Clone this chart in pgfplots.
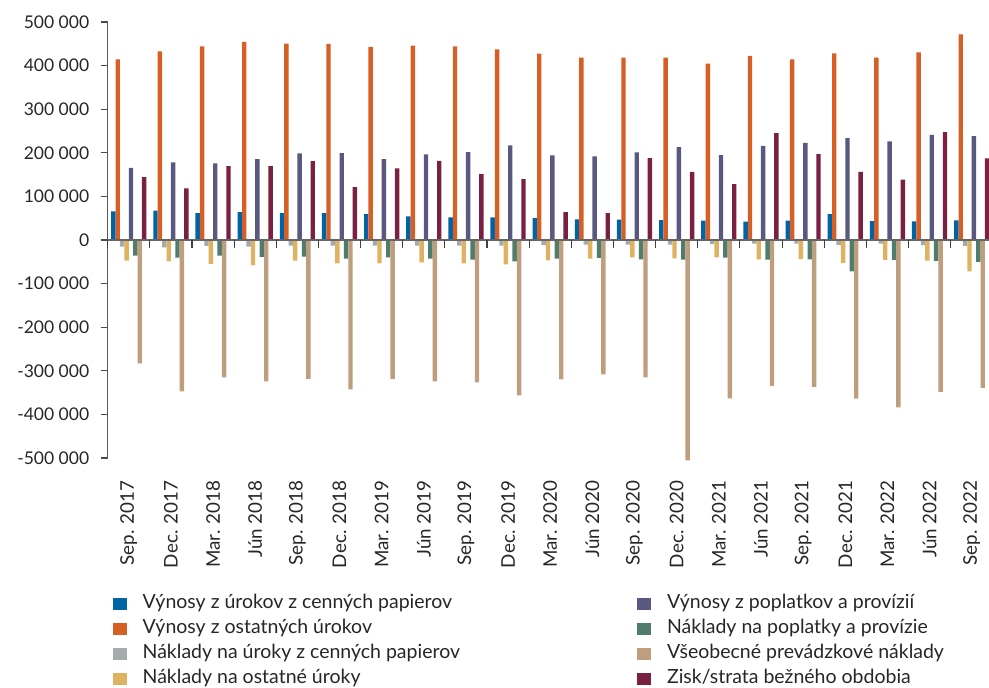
\documentclass[border=0pt]{standalone}
\usepackage{fontspec}
\setmainfont{Lato}
\usepackage{pgfplots}
\pgfplotsset{compat=1.18}

\definecolor{cBlue}{HTML}{0063A6}
\definecolor{cOrange}{HTML}{D65F26}
\definecolor{cGray}{HTML}{A5AAAD}
\definecolor{cYellow}{HTML}{DEB261}
\definecolor{cNavy}{HTML}{585880}
\definecolor{cTeal}{HTML}{507C6E}
\definecolor{cTan}{HTML}{BE9E7C}
\definecolor{cMaroon}{HTML}{7A2040}

\begin{document}
\begin{tikzpicture}
\path[use as bounding box] (-107.7pt,-230pt) rectangle (881.3pt,458pt);
\begin{axis}[
    name=ax,
    at={(0,0)}, anchor=south west,
    scale only axis,
    width=881.3pt, height=436pt,
    ybar=0pt, bar width=4.4pt,
    xmin=-0.5, xmax=20.41,
    ymin=-500000, ymax=500000,
    scaled y ticks=false,
    clip=false,
    axis y line*=left,
    axis x line*=bottom,
    x axis line style={draw=none},
    y axis line style={black!65, line width=1.2pt},
    ytick={-500000,-400000,...,500000},
    yticklabels={-500 000,-400 000,-300 000,-200 000,-100 000,0,100 000,200 000,300 000,400 000,500 000},
    xtick={0,...,20},
    xticklabels={Sep. 2017,Dec. 2017,Mar. 2018,Jún 2018,Sep. 2018,Dec. 2018,Mar. 2019,Jún 2019,Sep. 2019,Dec. 2019,Mar. 2020,Jún 2020,Sep. 2020,Dec. 2020,Mar. 2021,Jún 2021,Sep. 2021,Dec. 2021,Mar. 2022,Jún 2022,Sep. 2022},
    x tick style={draw=none},
    y tick style={black!70, line width=1.2pt},
    tick align=outside,
    major tick length=7pt,
    ticklabel style={font=\fontsize{17.5}{21}\selectfont, text=black!85},
    x tick label style={rotate=90, anchor=east, font=\fontsize{18.8}{22}\selectfont},
    xticklabel shift=12pt,
    yticklabel shift=8pt,
    legend columns=4,
    transpose legend,
    legend cell align=left,
    legend image code/.code={\fill[#1] (0pt,-6pt) rectangle (14pt,6pt);},
    legend style={
        at={(1.8pt,-133pt)}, anchor=north west,
        draw=none, fill=none,
        font=\fontsize{19.5}{23}\selectfont,
        text=black!85,
        nodes={inner sep=0pt, text height=13pt, text depth=4pt},
        row sep=8pt,
        /tikz/every odd column/.style={column sep=16pt},
        /tikz/every even column/.style={column sep=177pt},
    },
]
% Výnosy z úrokov z cenných papierov
\addplot[fill=cBlue, draw=none] coordinates {
(0,65600) (1,67200) (2,61800) (3,64100) (4,61800) (5,61800) (6,59500)
(7,54200) (8,51900) (9,51900) (10,50400) (11,47300) (12,46600) (13,45800)
(14,44300) (15,42000) (16,44300) (17,59500) (18,43500) (19,42700) (20,45000)};
% Výnosy z ostatných úrokov
\addplot[fill=cOrange, draw=none] coordinates {
(0,414500) (1,432800) (2,444300) (3,454200) (4,450400) (5,449600) (6,442700)
(7,445800) (8,444300) (9,437400) (10,427500) (11,418300) (12,418300) (13,418300)
(14,404600) (15,422100) (16,414500) (17,428200) (18,418300) (19,430500) (20,471800)};
% Náklady na úroky z cenných papierov
\addplot[fill=cGray, draw=none] coordinates {
(0,-15300) (1,-16800) (2,-13700) (3,-15300) (4,-13000) (5,-13000) (6,-13000)
(7,-13000) (8,-13000) (9,-13000) (10,-11500) (11,-10700) (12,-10700) (13,-10700)
(14,-9200) (15,-8400) (16,-8400) (17,-11500) (18,-8400) (19,-11500) (20,-13700)};
% Náklady na ostatné úroky
\addplot[fill=cYellow, draw=none] coordinates {
(0,-47300) (1,-48900) (2,-55000) (3,-58000) (4,-47300) (5,-53400) (6,-53400)
(7,-51100) (8,-53400) (9,-55700) (10,-46600) (11,-42700) (12,-39700) (13,-42000)
(14,-39700) (15,-44300) (16,-43500) (17,-52700) (18,-45800) (19,-47300) (20,-71800)};
% Výnosy z poplatkov a provízií
\addplot[fill=cNavy, draw=none] coordinates {
(0,165600) (1,177900) (2,175600) (3,185500) (4,198500) (5,199200) (6,185500)
(7,196200) (8,201500) (9,216800) (10,193900) (11,191600) (12,200800) (13,213000)
(14,194700) (15,216000) (16,222900) (17,233600) (18,226000) (19,241200) (20,238200)};
% Náklady na poplatky a provízie
\addplot[fill=cTeal, draw=none] coordinates {
(0,-35900) (1,-40500) (2,-35900) (3,-38900) (4,-38200) (5,-42700) (6,-39700)
(7,-42700) (8,-45000) (9,-48900) (10,-42700) (11,-41200) (12,-44300) (13,-45000)
(14,-40500) (15,-45000) (16,-44300) (17,-71800) (18,-45800) (19,-48100) (20,-50400)};
% Všeobecné prevádzkové náklady
\addplot[fill=cTan, draw=none] coordinates {
(0,-283200) (1,-347300) (2,-315300) (3,-324400) (4,-318300) (5,-342700) (6,-318300)
(7,-324400) (8,-326700) (9,-356500) (10,-319800) (11,-308400) (12,-315300) (13,-505300)
(14,-363400) (15,-334400) (16,-336600) (17,-364100) (18,-384000) (19,-348100) (20,-338900)};
% Zisk/strata bežného obdobia
\addplot[fill=cMaroon, draw=none] coordinates {
(0,144300) (1,118300) (2,169500) (3,169500) (4,180900) (5,121400) (6,164100)
(7,181700) (8,151100) (9,139700) (10,64100) (11,61800) (12,187800) (13,156500)
(14,128200) (15,245000) (16,197000) (17,156500) (18,138200) (19,247300) (20,187000)};

\legend{Výnosy z úrokov z cenných papierov,
Výnosy z ostatných úrokov,
Náklady na úroky z cenných papierov,
Náklady na ostatné úroky,
Výnosy z poplatkov a provízií,
Náklady na poplatky a provízie,
Všeobecné prevádzkové náklady,
Zisk/strata bežného obdobia}

% zero line and group separators
\draw[black!60, line width=1.2pt] (axis cs:-0.5,0) -- (axis cs:20.6,0);
\pgfplotsinvokeforeach{-0.5,0.5,...,19.5}{
  \draw[black!75, line width=1.1pt] (axis cs:#1,0) -- ++(0pt,-8pt);
}
\end{axis}
\end{tikzpicture}
\end{document}
